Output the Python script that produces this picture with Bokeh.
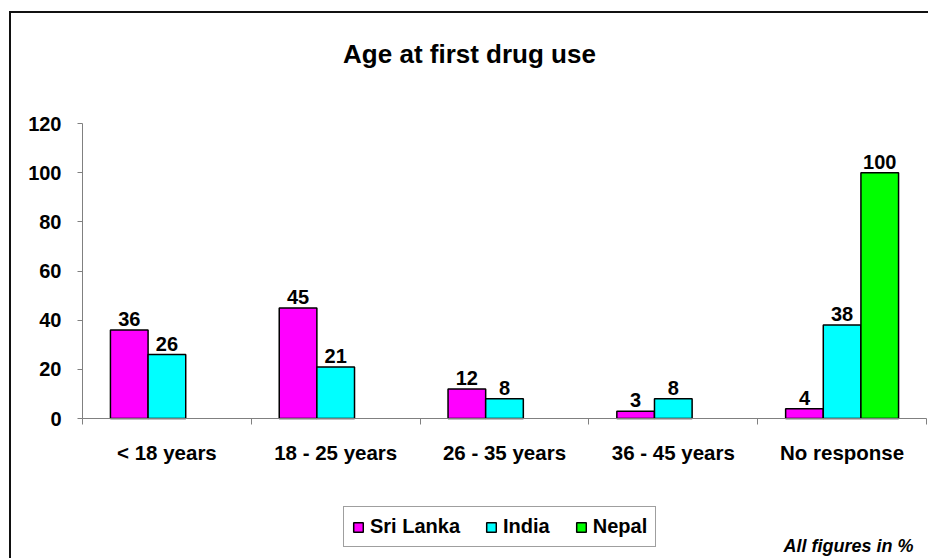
from bokeh.plotting import figure
from bokeh.models import (ColumnDataSource, Range1d, FixedTicker, Legend, LegendItem,
                          Label, LinearAxis)
from bokeh.transform import dodge
from bokeh.embed import file_html
from bokeh.resources import INLINE
from bokeh.core.properties import value

# ---- data ----
categories = ["< 18 years", "18 - 25 years", "26 - 35 years", "36 - 45 years", "No response"]
sri_lanka = [36, 45, 12, 3, 4]
india = [26, 21, 8, 8, 38]
nepal = [None, None, None, None, 100]
series_names = ["Sri Lanka", "India", "Nepal"]
y_ticks = [0, 20, 40, 60, 80, 100, 120]
y_min, y_max = 0, 120
title_text = "Age at first drug use"
note_text = "All figures in %"

# ---- layout (pixels) ----
W, H = 928, 558
PX_LEFT, PX_RIGHT = 82, 926      # plot area left/right
PX_TOP, PX_BOTTOM = 123, 418     # plot area top/bottom
BORDER_X, BORDER_Y = 9.5, 11.5   # chart border (left / top edge)
colors = ["#FF00FF", "#00FFFF", "#00FF00"]
FONT = "Liberation Sans"
n = len(categories)
centers = [i + 0.5 for i in range(n)]
bar_w = 0.223
offsets = [-bar_w, 0.0, bar_w]

sx = (PX_RIGHT - PX_LEFT) / n
sy = (PX_BOTTOM - PX_TOP) / (y_max - y_min)
x_range = Range1d(-PX_LEFT / sx, n + (W - PX_RIGHT) / sx)
y_range = Range1d(y_min - (H - PX_BOTTOM) / sy, y_max + PX_TOP / sy)

p = figure(width=W, height=H, output_backend="svg", toolbar_location=None,
           x_range=x_range, y_range=y_range, x_axis_type=None, y_axis_type=None,
           min_border=0)
p.outline_line_color = None
p.background_fill_color = "white"
p.border_fill_color = "white"

# chart border: left and top edges (the rest lies outside the picture)
bx = x_range.start + BORDER_X / sx
by = y_range.end - BORDER_Y / sy
p.line(x=[bx, bx, x_range.end + 1], y=[y_range.start - 1, by, by],
       line_color="#111111", line_width=2, line_join="miter")

# axes
xaxis = LinearAxis(ticker=FixedTicker(ticks=centers, minor_ticks=list(range(n + 1))),
                   major_label_overrides={c: lab for c, lab in zip(centers, categories)},
                   fixed_location=y_min, bounds=(0, n))
xaxis.axis_line_color = "#808080"
xaxis.major_tick_line_color = None
xaxis.major_tick_in = 0
xaxis.major_tick_out = 0
xaxis.minor_tick_line_color = "#808080"
xaxis.minor_tick_in = 0
xaxis.minor_tick_out = 6
xaxis.major_label_standoff = 16
xaxis.major_label_text_font = FONT
xaxis.major_label_text_font_style = "bold"
xaxis.major_label_text_font_size = "20.5px"
xaxis.major_label_text_color = "black"
p.add_layout(xaxis, "below")

yaxis = LinearAxis(ticker=FixedTicker(ticks=y_ticks), fixed_location=0,
                   bounds=(y_min, y_max))
yaxis.axis_line_color = "#808080"
yaxis.major_tick_line_color = "#808080"
yaxis.major_tick_in = 0
yaxis.major_tick_out = 5
yaxis.minor_tick_line_color = None
yaxis.major_label_standoff = 16
yaxis.major_label_text_font = FONT
yaxis.major_label_text_font_style = "bold"
yaxis.major_label_text_font_size = "20px"
yaxis.major_label_text_color = "black"
p.add_layout(yaxis, "left")

# bars
series = [sri_lanka, india, nepal]
items = []
for name, vals, col, off in zip(series_names, series, colors, offsets):
    tops = [float("nan") if v is None else v for v in vals]
    src = ColumnDataSource(dict(x=centers, top=tops))
    r = p.vbar(x=dodge("x", off), top="top", width=bar_w, source=src,
               fill_color=col, line_color="black", line_width=1.5)
    items.append(LegendItem(label=name, renderers=[r]))
    lx = [c for c, v in zip(centers, vals) if v is not None]
    ly = [v for v in vals if v is not None]
    lsrc = ColumnDataSource(dict(x=lx, y=ly, t=[str(v) for v in ly]))
    p.text(x=dodge("x", off), y="y", text="t", source=lsrc,
           text_align="center", text_baseline="bottom", y_offset=-4,
           text_font=value(FONT), text_font_style="bold", text_font_size="20px",
           text_color="black")

legend = Legend(items=items, location=(343, H - 547), orientation="horizontal",
                glyph_width=12, glyph_height=12, label_standoff=6, spacing=25,
                padding=8, margin=0,
                label_text_font=FONT, label_text_font_style="bold",
                label_text_font_size="20px", label_text_color="black",
                border_line_color="#404040", border_line_width=1,
                background_fill_color="white", background_fill_alpha=1)
p.add_layout(legend, "center")

p.add_layout(Label(x=469, y=H - 53, x_units="screen", y_units="screen", text=title_text,
                   text_align="center", text_baseline="middle",
                   text_font=FONT, text_font_style="bold", text_font_size="26px",
                   text_color="black"))
p.add_layout(Label(x=913, y=H - 545, x_units="screen", y_units="screen", text=note_text,
                   text_align="right", text_baseline="middle",
                   text_font=FONT, text_font_style="bold italic", text_font_size="18px",
                   text_color="black"))

open("out.html", "w").write(file_html(p, INLINE))
